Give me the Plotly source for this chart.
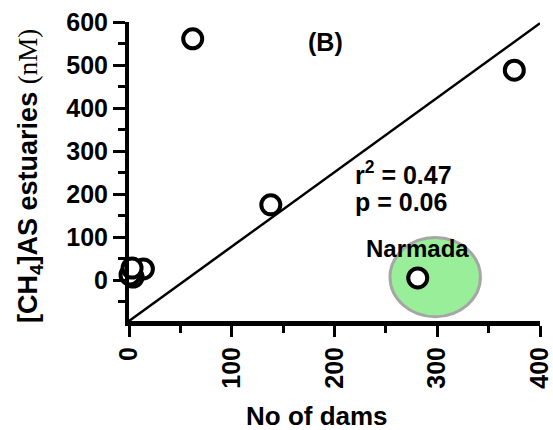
import plotly.graph_objects as go

# Number of dams per river basin vs. dissolved CH4 in the estuary
dams = [62, 138, 375, 281, 14, 4, 1, 3]
ch4_nM = [561, 175, 488, 5, 26, 7, 12, 28]

# Least-squares line reported on the panel
fit_x = [0, 400]
fit_intercept = -95
fit_slope = 1.73
fit_y = [fit_intercept + fit_slope * x for x in fit_x]

# Highlight around the Narmada estuary
narmada_x, narmada_y = 298, 7
halo_rx, halo_ry = 44, 92

x_ticks = [0, 100, 200, 300, 400]
y_ticks = [0, 100, 200, 300, 400, 500, 600]

FONT = "Liberation Sans"

fig = go.Figure()

fig.add_shape(
    type="circle", xref="x", yref="y",
    x0=narmada_x - halo_rx, x1=narmada_x + halo_rx,
    y0=narmada_y - halo_ry, y1=narmada_y + halo_ry,
    fillcolor="#99ee99", line=dict(color="#a6a6a6", width=3), layer="below",
)

fig.add_trace(go.Scatter(
    x=fit_x, y=fit_y, mode="lines",
    line=dict(color="black", width=2.5), hoverinfo="skip", cliponaxis=False,
))

fig.add_trace(go.Scatter(
    x=dams, y=ch4_nM, mode="markers", cliponaxis=False,
    marker=dict(size=19, color="white", line=dict(color="black", width=4)),
))

axis_font = dict(family=FONT, size=25, color="black", weight="bold")

fig.update_xaxes(
    range=[0, 400], tickvals=x_ticks, ticktext=[str(v) for v in x_ticks],
    tickangle=-90, tickfont=axis_font, automargin=False,
    ticklabeloverflow="allow",
    showline=True, linecolor="black", linewidth=5,
    ticks="outside", ticklen=11, tickwidth=3, tickcolor="black",
    minor=dict(dtick=50, ticks="outside", ticklen=7, tickwidth=3, tickcolor="black"),
    showgrid=False, zeroline=False,
)
fig.update_yaxes(
    range=[-95, 600], tickvals=y_ticks, ticktext=[str(v) for v in y_ticks],
    tickfont=axis_font, automargin=False,
    ticklabeloverflow="allow",
    showline=True, linecolor="black", linewidth=4,
    ticks="outside", ticklen=12, tickwidth=3, tickcolor="black",
    minor=dict(dtick=50, ticks="outside", ticklen=7, tickwidth=3, tickcolor="black"),
    showgrid=False, zeroline=False,
)


def label(text, x, y, size=25, xanchor="center", **kw):
    fig.add_annotation(
        text=text, xref="paper", yref="paper", x=x, y=y,
        xanchor=xanchor, yanchor="middle", showarrow=False,
        font=dict(family=FONT, size=size, color="black", weight="bold"), **kw,
    )


label("(B)", 0.477, 0.933)
label("r<sup>2</sup> = 0.47", 0.545, 0.495, xanchor="left")
label("p = 0.06", 0.545, 0.398, xanchor="left")
label("Narmada", 0.701, 0.244, size=24)
label("No of dams", 0.457, -0.318, size=26)
label(
    "[CH<sub>4</sub>]AS estuaries <span style='font-family:Liberation Serif;font-weight:normal'>(nM)</span>",
    -0.241, 0.485, size=27, textangle=-90,
)

fig.update_layout(
    width=553, height=430,
    margin=dict(l=129, r=13, t=22, b=109),
    paper_bgcolor="white", plot_bgcolor="white",
    showlegend=False,
)

fig.write_html("out.html")
